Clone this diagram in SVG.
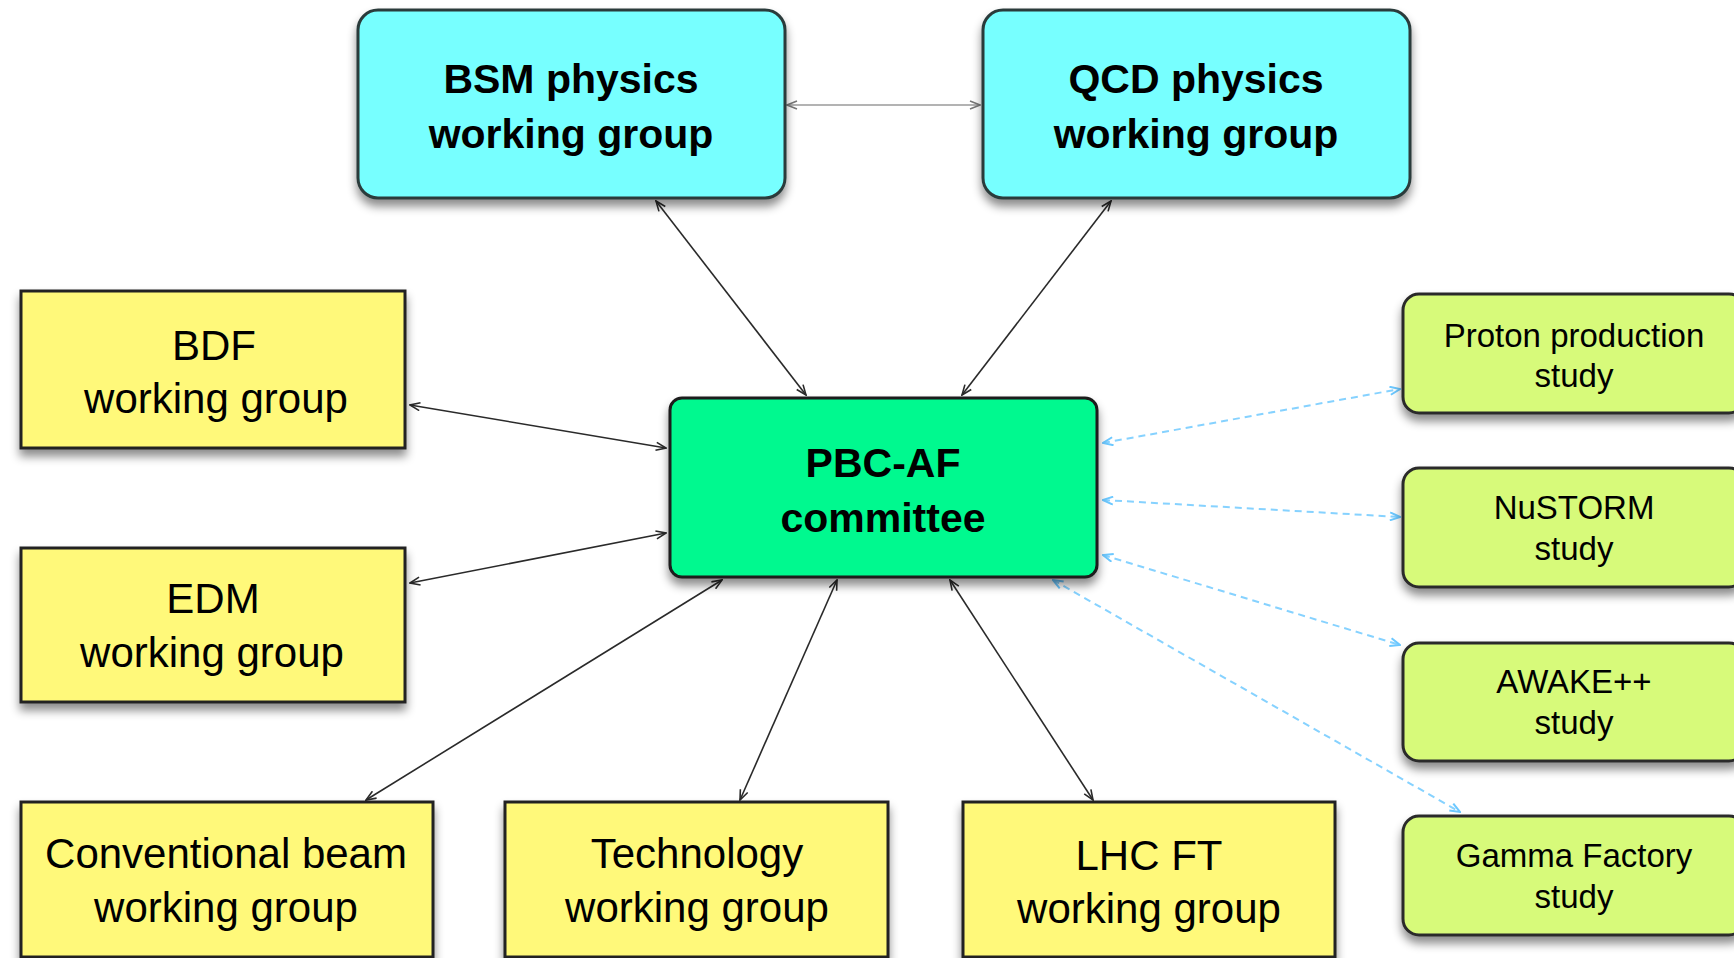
<svg xmlns="http://www.w3.org/2000/svg" width="1734" height="958" viewBox="0 0 1734 958">
<style>
text{font-family:"Liberation Sans",Arial,sans-serif;text-anchor:middle;fill:#000}
.b{font-weight:bold;font-size:41px}
.r{font-size:42px}
.s{font-size:33px}
.wg{fill:#77FFFF;stroke:#2b3b3b;stroke-width:3}
.pbc{fill:#00F98F;stroke:#1a1a1a;stroke-width:3}
.y{fill:#FFF97A;stroke:#222;stroke-width:3}
.g{fill:#D7FA7A;stroke:#2a2a2a;stroke-width:3}
.k{stroke:#2a2a2a;stroke-width:1.6;fill:none;marker-start:url(#ak);marker-end:url(#ak)}
.gr{stroke:#9a9a9a;stroke-width:1.6;fill:none;marker-start:url(#ag);marker-end:url(#ag)}
.bl{stroke:#86D2FF;stroke-width:2;stroke-dasharray:7 5;fill:none;marker-start:url(#ab);marker-end:url(#ab)}
</style>
<defs>
<filter id="sh" x="-10%" y="-10%" width="120%" height="130%">
<feDropShadow dx="0" dy="7" stdDeviation="5" flood-color="#000" flood-opacity="0.45"/>
</filter>
<marker id="ak" viewBox="0 0 12 10" refX="11" refY="5" markerWidth="12" markerHeight="10" markerUnits="userSpaceOnUse" orient="auto-start-reverse">
<path d="M1,1 L11,5 L1,9" fill="none" stroke="#2a2a2a" stroke-width="1.6"/>
</marker>
<marker id="ag" viewBox="0 0 12 10" refX="11" refY="5" markerWidth="12" markerHeight="10" markerUnits="userSpaceOnUse" orient="auto-start-reverse">
<path d="M1,1 L11,5 L1,9" fill="none" stroke="#777" stroke-width="1.6"/>
</marker>
<marker id="ab" viewBox="0 0 12 10" refX="11" refY="5" markerWidth="12" markerHeight="10" markerUnits="userSpaceOnUse" orient="auto-start-reverse">
<path d="M1,1 L11,5 L1,9" fill="none" stroke="#6CC8FF" stroke-width="2"/>
</marker>
</defs>
<rect width="1734" height="958" fill="#fff"/>

<g id="connectors">
<line class="gr" x1="787" y1="105" x2="980" y2="105"/>
<line class="k" x1="656" y1="201" x2="806" y2="395"/>
<line class="k" x1="1111" y1="201" x2="962" y2="395"/>
<line class="k" x1="410" y1="405" x2="666" y2="448"/>
<line class="k" x1="410" y1="583" x2="666" y2="533"/>
<line class="k" x1="366" y1="800" x2="722" y2="580"/>
<line class="k" x1="740" y1="800" x2="837" y2="580"/>
<line class="k" x1="950" y1="580" x2="1093" y2="800"/>
<line class="bl" x1="1103" y1="443" x2="1400" y2="389"/>
<line class="bl" x1="1103" y1="500" x2="1400" y2="517"/>
<line class="bl" x1="1103" y1="555" x2="1400" y2="645"/>
<line class="bl" x1="1053" y1="580" x2="1460" y2="812"/>
</g>

<g id="bsm">
<rect class="wg" x="358" y="10" width="427" height="188" rx="20" filter="url(#sh)"/>
<text class="b" x="571" y="93">BSM physics</text>
<text class="b" x="571" y="148">working group</text>
</g>
<g id="qcd">
<rect class="wg" x="983" y="10" width="427" height="188" rx="20" filter="url(#sh)"/>
<text class="b" x="1196" y="93">QCD physics</text>
<text class="b" x="1196" y="148">working group</text>
</g>
<g id="pbc">
<rect class="pbc" x="670" y="398" width="427" height="179" rx="12" filter="url(#sh)"/>
<text class="b" x="883" y="477">PBC-AF</text>
<text class="b" x="883" y="532">committee</text>
</g>
<g id="bdf">
<rect class="y" x="21" y="291" width="384" height="157" filter="url(#sh)"/>
<text class="r" x="214" y="360">BDF</text>
<text class="r" x="216" y="413">working group</text>
</g>
<g id="edm">
<rect class="y" x="21" y="548" width="384" height="154" filter="url(#sh)"/>
<text class="r" x="213" y="613">EDM</text>
<text class="r" x="212" y="667">working group</text>
</g>
<g id="conv">
<rect class="y" x="21" y="802" width="412" height="155" filter="url(#sh)"/>
<text class="r" x="226" y="868">Conventional beam</text>
<text class="r" x="226" y="922">working group</text>
</g>
<g id="tech">
<rect class="y" x="505" y="802" width="383" height="155" filter="url(#sh)"/>
<text class="r" x="697" y="868">Technology</text>
<text class="r" x="697" y="922">working group</text>
</g>
<g id="lhc">
<rect class="y" x="963" y="802" width="372" height="155" filter="url(#sh)"/>
<text class="r" x="1149" y="870">LHC FT</text>
<text class="r" x="1149" y="923">working group</text>
</g>
<g id="proton">
<rect class="g" x="1403" y="294" width="342" height="119" rx="16" filter="url(#sh)"/>
<text class="s" x="1574" y="347">Proton production</text>
<text class="s" x="1574" y="387">study</text>
</g>
<g id="nustorm">
<rect class="g" x="1403" y="468" width="342" height="119" rx="16" filter="url(#sh)"/>
<text class="s" x="1574" y="519">NuSTORM</text>
<text class="s" x="1574" y="560">study</text>
</g>
<g id="awake">
<rect class="g" x="1403" y="643" width="342" height="118" rx="16" filter="url(#sh)"/>
<text class="s" x="1574" y="693">AWAKE++</text>
<text class="s" x="1574" y="734">study</text>
</g>
<g id="gamma">
<rect class="g" x="1403" y="816" width="342" height="119" rx="16" filter="url(#sh)"/>
<text class="s" x="1574" y="867">Gamma Factory</text>
<text class="s" x="1574" y="908">study</text>
</g>
</svg>
